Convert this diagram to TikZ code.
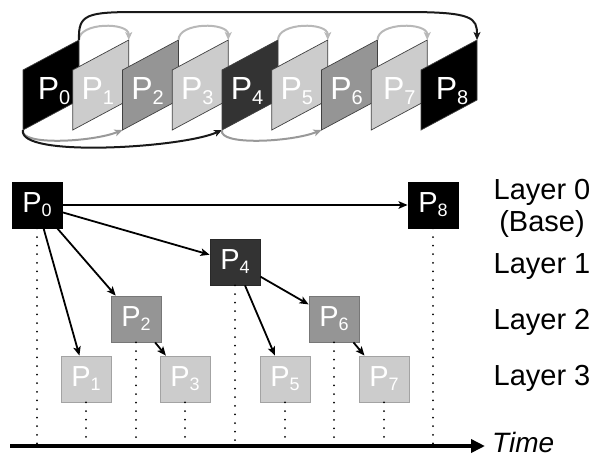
\documentclass[tikz,border=0pt]{standalone}
\usepackage{fontspec}
\setmainfont{Liberation Sans}
\usetikzlibrary{arrows.meta,calc}
\definecolor{fdark}{HTML}{333333}
\definecolor{fmid}{HTML}{959595}
\definecolor{flight}{HTML}{CCCCCC}
\definecolor{arclight}{HTML}{B8B8B8}
\definecolor{arcmid}{HTML}{999999}
\newcommand{\plab}[1]{\fontsize{29}{29}\selectfont P\raisebox{-4pt}{\fontsize{18}{18}\selectfont #1}}
\newcommand{\tlab}[1]{\fontsize{32}{32}\selectfont P\raisebox{-5pt}{\fontsize{20}{20}\selectfont #1}}
\tikzset{
  frame/.style={draw=black!75, line width=0.7pt},
  flab/.style={text=white, inner sep=0pt},
  box/.style={minimum width=50pt, minimum height=46pt, inner sep=0pt, text=white, draw=#1!80!black, line width=0.8pt, fill=#1},
  arr/.style={line width=1.8pt, -{Stealth[length=9pt,width=7.5pt,inset=2pt]}},
  toparc/.style={line width=2pt, draw=arclight, -{Stealth[length=8pt,width=7pt,inset=2pt]}},
  midarc/.style={line width=2pt, draw=arcmid, -{Stealth[length=8pt,width=7pt,inset=2pt]}},
  blkarc/.style={line width=2pt, draw=black!90, -{Stealth[length=8pt,width=7pt,inset=2pt]}},
  dotline/.style={line width=2pt, line cap=round, dash pattern=on 0pt off 8.6pt},
  lay/.style={font=\fontsize{29}{29}\selectfont, inner sep=0pt}
}
\begin{document}
\begin{tikzpicture}[x=1pt,y=-1pt]
\useasboundingbox (0,0) rectangle (601,459);
% top frames
\foreach \i/\c/\dx in {0/black/31,1/flight/25,2/fmid/25,3/flight/25,4/fdark/25,5/flight/25,6/fmid/25,7/flight/28,8/black/31}{
  \pgfmathsetmacro\xx{23+49.75*\i}
  \filldraw[frame, fill=\c] (\xx,70) -- (\xx+56,40) -- (\xx+56,100) -- (\xx,130) -- cycle;
  \coordinate (tr\i) at (\xx+56,40);
  \coordinate (bl\i) at (\xx,130);
  \node[flab] (t\i) at (\xx+\dx,91) {\tlab{\i}};
}
% top arcs
\draw[toparc] (tr0) .. controls +(0,-18) and +(0,-18) .. (tr1);
\draw[toparc] (tr2) .. controls +(0,-18) and +(0,-18) .. (tr3);
\draw[toparc] (tr4) .. controls +(0,-18) and +(0,-18) .. (tr5);
\draw[toparc] (tr6) .. controls +(0,-18) and +(0,-18) .. (tr7);
\draw[blkarc] (tr0) .. controls ($(tr0)+(-1,-26)$) and ($(tr0)+(8,-28)$) .. ($(tr0)+(60,-28)$)
   -- ($(tr8)+(-70,-28)$) .. controls ($(tr8)+(-4,-28)$) and ($(tr8)+(0,-22)$) .. (tr8);
% bottom arcs
\draw[midarc] (bl0) .. controls +(-4,16) and +(-30,12) .. (bl2);
\draw[blkarc] (bl0) .. controls +(-6,28) and +(-40,18) .. (bl4);
\draw[midarc] (bl4) .. controls +(-4,16) and +(-30,12) .. (bl6);
% bottom boxes
\node[box=black] (b0) at (37,205) {\plab{0}};
\node[box=black] (b8) at (433,205) {\plab{8}};
\node[box=fdark] (b4) at (235,262) {\plab{4}};
\node[box=fmid] (b2) at (136,319) {\plab{2}};
\node[box=fmid] (b6) at (334,319) {\plab{6}};
\node[box=flight] (b1) at (86,379) {\plab{1}};
\node[box=flight] (b3) at (185,379) {\plab{3}};
\node[box=flight] (b5) at (285,379) {\plab{5}};
\node[box=flight] (b7) at (384,379) {\plab{7}};
% time axis
\coordinate (ts) at (10,446);
\coordinate (te) at (485,446);
\foreach \n in {0,1,2,3,4,5,6,7,8}{
  \draw[dotline] (b\n.south) -- (b\n.south |- ts);
}
\draw[line width=4pt, -{Triangle[length=14pt,width=13pt]}] (ts) -- (te);
\node[anchor=west, font=\itshape\fontsize{28}{28}\selectfont, inner sep=0pt] (time) at (492,442) {Time};
% arrows
\draw[arr] (b0) -- (b8);
\draw[arr] (b0) -- (b4);
\draw[arr] (b0) -- (b2);
\draw[arr] (b0) -- (b1);
\draw[arr] (b4) -- (b6);
\draw[arr] (b4) -- (b5);
\draw[arr] (b2) -- (b3);
\draw[arr] (b6) -- (b7);
% layer labels
\node[lay] (l0) at (542,192) {Layer 0};
\node[lay] (lb) at (542,224) {(Base)};
\node[lay] (l1) at (542,267) {Layer 1};
\node[lay] (l2) at (542,322) {Layer 2};
\node[lay] (l3) at (542,378) {Layer 3};
\end{tikzpicture}
\end{document}
